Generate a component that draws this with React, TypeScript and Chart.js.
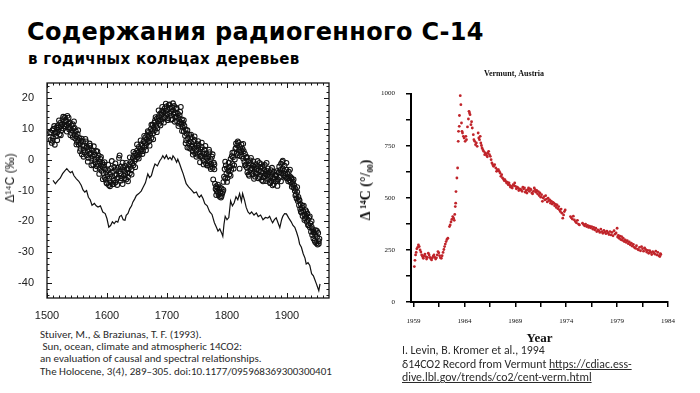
import React, { useEffect, useRef } from 'react';
import { Chart, registerables } from 'chart.js';

Chart.register(...registerables);

// ---------- Left chart: Stuiver & Braziunas (1993), tree-ring Δ14C ----------
const leftXTicks = [1500, 1600, 1700, 1800, 1900];
const leftYTicks = [-40, -30, -20, -10, 0, 10, 20];

// solid line series [year, Δ14C ‰]
const lineSeries: [number, number][] = [
  [1510, -6.7], [1514, -7.8], [1518, -6.8], [1522, -6.0], [1526, -4.5], [1530, -3.5], [1533, -2.9], [1536, -3.6],
  [1539, -4.2], [1542, -3.8], [1545, -5.2], [1549, -6.2], [1553, -7.0], [1557, -8.3], [1560, -9.8], [1563, -10.5],
  [1566, -10.0], [1569, -12.2], [1572, -13.0], [1575, -14.8], [1579, -14.2], [1582, -15.0], [1585, -15.4], [1589, -15.0],
  [1593, -17.0], [1597, -17.5], [1600, -19.2], [1603, -21.9], [1606, -21.4], [1609, -20.2], [1612, -20.8], [1615, -20.0],
  [1618, -20.3], [1621, -18.5], [1624, -18.1], [1627, -19.5], [1630, -19.7], [1632, -18.1], [1635, -17.5], [1638, -15.9],
  [1641, -15.0], [1643, -13.8], [1646, -12.8], [1649, -11.6], [1653, -11.0], [1657, -10.2], [1660, -9.0], [1664, -7.5],
  [1668, -4.6], [1671, -5.8], [1674, -5.2], [1677, -3.0], [1680, -1.4], [1684, -2.0], [1688, -0.3], [1691, 0.5],
  [1693, 1.3], [1696, 0.4], [1699, 1.5], [1702, 0.2], [1705, 0.8], [1708, 0.0], [1710, 1.3], [1713, 0.5],
  [1716, -0.8], [1718, 0.2], [1721, -1.3], [1724, -3.0], [1727, -4.6], [1730, -6.5], [1732, -7.8], [1736, -8.8],
  [1741, -9.9], [1745, -10.8], [1749, -10.5], [1752, -11.8], [1754, -12.2], [1757, -11.5], [1760, -12.6], [1763, -14.3],
  [1767, -15.0], [1771, -16.9], [1775, -17.8], [1779, -20.5], [1782, -21.8], [1785, -23.2], [1788, -22.5], [1791, -23.8],
  [1793, -24.9], [1795, -21.0], [1797, -18.4], [1800, -19.5], [1803, -18.8], [1806, -13.4], [1809, -15.0], [1812, -14.0],
  [1815, -12.0], [1818, -13.0], [1821, -11.0], [1824, -13.5], [1826, -11.0], [1829, -13.0], [1832, -15.5], [1835, -17.0],
  [1838, -17.6], [1841, -17.0], [1845, -18.0], [1849, -17.3], [1852, -18.5], [1856, -18.0], [1860, -19.5], [1864, -18.8],
  [1868, -19.0], [1871, -18.4], [1874, -19.8], [1876, -20.5], [1879, -19.5], [1882, -18.9], [1885, -20.5], [1888, -22.1],
  [1891, -19.5], [1893, -18.4], [1896, -17.5], [1899, -17.6], [1903, -19.0], [1907, -20.2], [1910, -21.4], [1913, -22.0],
  [1916, -23.6], [1919, -25.5], [1921, -27.4], [1924, -28.5], [1927, -30.6], [1930, -32.0], [1932, -33.9], [1935, -33.5],
  [1938, -34.4], [1941, -37.1], [1944, -37.8], [1946, -38.8], [1949, -40.4], [1951, -41.5], [1953, -42.6], [1955, -40.4],
];

// open-circle series [year, Δ14C ‰]
const ringPoints: [number, number][] = [
  [1506, 6.5], [1507, 8.8], [1508, 5.5], [1509, 9.6], [1510, 7.2], [1511, 10.1], [1512, 8.4], [1513, 4.9], [1514, 9.0], [1515, 7.7],
  [1516, 10.5], [1517, 8.9], [1518, 11.2], [1519, 9.8], [1520, 10.6], [1521, 8.3], [1522, 12.0], [1523, 10.9], [1524, 9.5], [1525, 11.5],
  [1526, 13.2], [1527, 10.2], [1528, 12.4], [1529, 11.0], [1530, 13.8], [1531, 10.8], [1532, 12.6], [1533, 11.4], [1534, 14.3], [1535, 10.5],
  [1536, 11.8], [1537, 9.9], [1538, 12.1], [1539, 10.4], [1540, 8.8], [1541, 11.3], [1542, 9.6], [1543, 7.4], [1544, 10.2], [1545, 12.5],
  [1546, 8.1], [1547, 6.9], [1548, 9.3], [1549, 7.6], [1550, 5.8], [1551, 8.4], [1552, 6.3], [1553, 4.9], [1554, 7.1], [1555, 5.5],
  [1556, 3.6], [1557, 6.2], [1558, 1.8], [1559, 4.7], [1560, 5.9], [1561, 3.2], [1562, 4.5], [1563, 2.4], [1564, 6.8], [1565, 3.9],
  [1566, 1.5], [1567, 4.2], [1568, 2.8], [1569, 0.6], [1570, 3.5], [1571, 1.9], [1572, 4.6], [1573, 2.2], [1574, 0.4], [1575, 3.1],
  [1576, 1.2], [1577, -1.6], [1578, 2.5], [1579, 0.1], [1580, 1.7], [1581, -0.8], [1582, 2.9], [1583, -2.1], [1584, 0.6], [1585, -1.3],
  [1586, 1.4], [1587, -0.5], [1588, -2.7], [1589, 0.3], [1590, -1.9], [1591, -3.6], [1592, -0.9], [1593, -2.4], [1594, -4.3], [1595, -1.6],
  [1596, -5.8], [1597, -3.2], [1598, -6.5], [1599, -4.1], [1600, -7.7], [1601, -5.3], [1602, -3.4], [1603, -8.2], [1604, -6.1], [1605, -4.6],
  [1606, -7.3], [1607, -2.8], [1608, -5.5], [1609, -8.0], [1610, -3.9], [1611, -6.7], [1612, -2.3], [1613, -5.0], [1614, -7.4], [1615, -3.3],
  [1616, -4.8], [1617, -6.2], [1618, -2.6], [1619, -5.7], [1620, -3.7], [1621, 1.4], [1622, -4.4], [1623, -2.2], [1624, -6.0], [1625, -3.1],
  [1626, -7.9], [1627, -2.5], [1628, -5.1], [1629, -3.8], [1630, -2.0], [1631, -4.7], [1632, -6.4], [1633, -2.9], [1634, -4.2], [1635, -5.6],
  [1636, -3.0], [1637, -1.5], [1638, -4.4], [1639, -2.3], [1640, -0.7], [1641, -3.1], [1642, -1.2], [1643, 0.5], [1644, -1.8], [1645, 1.3],
  [1646, -0.4], [1647, 2.1], [1648, 0.2], [1649, 1.5], [1650, 3.0], [1651, 0.9], [1652, 2.4], [1653, 4.2], [1654, 1.6], [1655, 3.5],
  [1656, 2.7], [1657, 5.1], [1658, 3.3], [1659, 4.6], [1660, 2.8], [1661, 6.0], [1662, 4.1], [1663, 5.4], [1664, 7.3], [1665, 4.8],
  [1666, 6.6], [1667, 8.0], [1668, 5.7], [1669, 7.5], [1670, 9.1], [1671, 6.2], [1672, 8.4], [1673, 10.0], [1674, 7.1], [1675, 9.4],
  [1676, 11.3], [1677, 8.6], [1678, 10.5], [1679, 12.1], [1680, 9.7], [1681, 13.9], [1682, 11.0], [1683, 13.4], [1684, 10.3], [1685, 12.6],
  [1686, 14.2], [1687, 11.7], [1688, 13.0], [1689, 15.1], [1690, 12.4], [1691, 14.6], [1692, 16.0], [1693, 13.3], [1694, 15.5], [1695, 14.0],
  [1696, 16.7], [1697, 13.8], [1698, 15.9], [1699, 17.4], [1700, 14.8], [1701, 16.3], [1702, 13.5], [1703, 17.8], [1704, 15.2], [1705, 16.9],
  [1706, 14.4], [1707, 15.7], [1708, 17.1], [1709, 13.2], [1710, 16.1], [1711, 14.9], [1712, 17.5], [1713, 15.4], [1714, 13.9], [1715, 16.6],
  [1716, 14.1], [1717, 12.5], [1718, 15.0], [1719, 13.6], [1720, 11.8], [1721, 14.5], [1722, 12.2], [1723, 17.2], [1724, 11.5], [1725, 13.1],
  [1726, 10.7], [1727, 12.0], [1728, 9.2], [1729, 11.1], [1730, 7.8], [1731, 9.9], [1732, 6.4], [1733, 8.5], [1734, 4.0], [1735, 7.0],
  [1736, 5.3], [1737, 8.1], [1738, 6.0], [1739, 3.6], [1740, 5.7], [1741, 7.4], [1742, 4.4], [1743, 2.7], [1744, 5.9], [1745, 3.8],
  [1746, 6.5], [1747, 2.1], [1748, 4.6], [1749, 3.0], [1750, 5.2], [1751, 1.6], [1752, 3.9], [1753, 4.8], [1754, 2.4], [1755, -0.8],
  [1756, 3.4], [1757, 1.3], [1758, 4.1], [1759, 0.6], [1760, 2.6], [1761, -0.3], [1762, 1.9], [1763, 3.3], [1764, 0.9], [1765, -1.2],
  [1766, 2.0], [1767, 0.4], [1768, -1.7], [1769, 1.1], [1770, -0.6], [1771, 2.5], [1772, -2.3], [1773, 0.2], [1774, -1.4], [1775, 1.0],
  [1776, -2.6], [1777, -6.4], [1778, -0.9], [1779, -3.1], [1780, -7.8], [1781, -9.5], [1782, -8.6], [1783, -10.2], [1784, -9.0], [1785, -8.1],
  [1786, -11.4], [1787, -9.7], [1788, -8.9], [1789, -10.6], [1790, -12.3], [1791, -9.3], [1792, -11.0], [1793, -10.4], [1794, -7.2], [1795, -5.5],
  [1796, -3.0], [1797, -6.1], [1798, -1.8], [1799, -4.5], [1800, -2.7], [1801, -5.9], [1802, -3.6], [1803, -0.9], [1804, -4.8], [1805, -2.2],
  [1806, 0.3], [1807, -3.3], [1808, 1.2], [1809, -1.4], [1810, 0.8], [1811, -2.9], [1812, 2.4], [1813, 0.1], [1814, 3.6], [1815, 5.3],
  [1816, 2.0], [1817, 4.7], [1818, 1.5], [1819, 5.6], [1820, 3.2], [1821, -2.9], [1822, 4.1], [1823, 2.6], [1824, 5.0], [1825, 1.1],
  [1826, 3.5], [1827, 0.4], [1828, 2.8], [1829, -0.7], [1830, 1.9], [1831, -1.6], [1832, 0.7], [1833, -2.5], [1834, -4.1], [1835, -0.3],
  [1836, -2.0], [1837, -5.2], [1838, -1.1], [1839, -3.4], [1840, 0.6], [1841, -2.7], [1842, -4.6], [1843, -1.8], [1844, -0.5], [1845, -3.9],
  [1846, -2.3], [1847, -5.5], [1848, -1.4], [1849, -3.0], [1850, -4.4], [1851, -2.1], [1852, -6.0], [1853, -3.5], [1854, -1.0], [1855, -4.9],
  [1856, -2.6], [1857, -3.8], [1858, -6.6], [1859, -2.2], [1860, -4.3], [1861, -5.7], [1862, -3.1], [1863, -1.7], [1864, -4.7], [1865, -6.9],
  [1866, -3.6], [1867, -5.1], [1868, -2.8], [1869, -6.3], [1870, -4.0], [1871, -7.2], [1872, -5.4], [1873, -3.4], [1874, -6.8], [1875, -4.6],
  [1876, -8.3], [1877, -5.8], [1878, -3.9], [1879, -6.1], [1880, -4.9], [1881, -7.0], [1882, -5.3], [1883, -3.7], [1884, -8.5], [1885, -6.4],
  [1886, -4.2], [1887, -2.2], [1888, -5.6], [1889, -3.3], [1890, -1.3], [1891, -4.4], [1892, -0.7], [1893, -2.8], [1894, -5.0], [1895, -3.6],
  [1896, -1.9], [1897, -4.5], [1898, -5.8], [1899, -3.2], [1900, -6.1], [1901, -4.7], [1902, -5.9], [1903, -3.9], [1904, -6.6], [1905, -5.4],
  [1906, -7.3], [1907, -5.8], [1908, -6.2], [1909, -8.0], [1910, -7.1], [1911, -9.0], [1912, -8.3], [1913, -10.1], [1914, -9.4], [1915, -11.2],
  [1916, -12.6], [1917, -10.5], [1918, -13.4], [1919, -12.1], [1920, -14.8], [1921, -13.2], [1922, -16.0], [1923, -14.5], [1924, -17.2], [1925, -15.6],
  [1926, -18.3], [1927, -16.7], [1928, -14.9], [1929, -17.8], [1930, -19.0], [1931, -16.4], [1932, -18.6], [1933, -20.2], [1934, -17.5], [1935, -19.5],
  [1936, -21.3], [1937, -18.9], [1938, -22.0], [1939, -20.7], [1940, -23.4], [1941, -21.8], [1942, -24.5], [1943, -22.6], [1944, -25.6], [1945, -23.7],
  [1946, -26.3], [1947, -24.4], [1948, -22.9], [1949, -27.2], [1950, -25.1], [1951, -27.6], [1952, -23.8], [1953, -26.5], [1954, -25.7],
];

// second set of open circles (spread around the band)
const ringExtra: [number, number][] = [
  [1505, 8.9], [1509, 6.2], [1512, 11.0], [1517, 6.4], [1520, 12.8], [1523, 8.0], [1527, 14.0], [1531, 12.9], [1533, 9.2], [1536, 13.7],
  [1539, 8.0], [1543, 11.6], [1546, 10.4], [1549, 5.0], [1552, 9.6], [1555, 2.8], [1558, 6.9], [1561, 1.0], [1565, 6.0], [1568, -0.6],
  [1571, 5.3], [1574, -1.8], [1578, 4.4], [1581, -3.0], [1584, 2.7], [1587, -4.6], [1590, 0.9], [1593, -6.3], [1596, -0.8], [1599, -7.5],
  [1602, -1.6], [1605, -8.6], [1608, -0.4], [1611, -7.9], [1614, -1.2], [1617, -8.2], [1620, 0.6], [1623, -6.8], [1626, -0.9], [1629, -6.0],
  [1632, -1.0], [1635, -7.0], [1638, 0.8], [1641, -4.8], [1644, 2.6], [1647, -2.4], [1650, 5.0], [1653, 0.4], [1656, 6.3], [1659, 1.9],
  [1662, 7.8], [1665, 3.1], [1668, 9.3], [1671, 4.6], [1674, 11.4], [1677, 6.7], [1680, 12.8], [1683, 9.0], [1686, 16.1], [1689, 11.2],
  [1692, 17.2], [1695, 12.1], [1698, 18.3], [1701, 12.9], [1704, 18.0], [1707, 13.0], [1710, 18.4], [1713, 12.4], [1716, 16.9], [1719, 11.0],
  [1722, 15.6], [1725, 9.4], [1728, 12.9], [1731, 5.4], [1734, 9.6], [1737, 3.9], [1740, 8.2], [1743, 1.7], [1746, 7.6], [1749, 1.0],
  [1752, 6.1], [1755, 1.2], [1758, 5.6], [1761, -1.5], [1764, 4.5], [1767, -1.9], [1770, 3.3], [1773, -3.0], [1776, 1.8], [1779, -1.5],
  [1782, -11.5], [1785, -10.6], [1788, -12.0], [1791, -11.8], [1794, -9.8], [1797, -0.6], [1800, -7.2], [1803, -2.5], [1806, -5.2], [1809, 2.3],
  [1812, -1.8], [1815, 3.9], [1818, 6.0], [1821, 1.2], [1824, 3.0], [1827, 5.2], [1830, -1.9], [1833, 0.9], [1836, -4.8], [1839, -0.2],
  [1842, -2.9], [1845, -6.2], [1848, -4.4], [1851, -0.4], [1854, -5.6], [1857, -1.4], [1860, -7.0], [1863, -5.2], [1866, -1.0], [1869, -4.5],
  [1872, -7.6], [1875, -2.6], [1878, -7.9], [1881, -5.0], [1884, -6.9], [1887, -4.0], [1890, -7.0], [1893, -0.3], [1896, -5.4], [1899, -1.0],
  [1902, -7.0], [1905, -3.2], [1908, -8.8], [1911, -6.4], [1914, -11.6], [1917, -8.9], [1920, -12.9], [1923, -16.8], [1926, -15.0], [1929, -19.6],
  [1932, -16.8], [1935, -21.2], [1938, -18.4], [1941, -20.0], [1944, -23.5], [1947, -26.8], [1950, -23.2], [1953, -27.3],
];

// ---------- Right chart: Vermunt, Austria Δ14CO2 ----------
const rightXTicks = [1959, 1961.5, 1964, 1966.5, 1969, 1971.5, 1974, 1976.5, 1979, 1981.5, 1984];
const rightXLabels = [1959, 1964, 1969, 1974, 1979, 1984];
const rightYTicks = [0, 125, 250, 375, 500, 625, 750, 875, 1000];
const rightYLabels = [0, 250, 500, 750, 1000];

const vermuntPoints: [number, number][] = [
  [1959.08, 170], [1959.14, 200], [1959.2, 226], [1959.26, 238], [1959.32, 255], [1959.4, 262], [1959.48, 274], [1959.56, 266],
  [1959.64, 250], [1959.72, 240], [1959.8, 226], [1959.88, 218], [1959.96, 210], [1960.04, 222], [1960.12, 230], [1960.2, 218],
  [1960.28, 206], [1960.36, 214], [1960.45, 234], [1960.53, 226], [1960.61, 214], [1960.69, 208], [1960.77, 202], [1960.85, 212],
  [1960.93, 220], [1961.01, 226], [1961.09, 214], [1961.17, 206], [1961.25, 212], [1961.33, 226], [1961.4, 242], [1961.48, 236],
  [1961.56, 222], [1961.64, 212], [1961.73, 210], [1961.81, 222], [1961.9, 238], [1961.98, 252], [1962.05, 266], [1962.12, 278],
  [1962.2, 290], [1962.28, 300], [1962.37, 306], [1962.53, 362], [1962.6, 370], [1962.68, 384], [1962.76, 396], [1962.85, 410],
  [1962.93, 402], [1963.0, 392], [1963.05, 420], [1963.1, 458], [1963.14, 474], [1963.17, 530], [1963.26, 595], [1963.33, 643],
  [1963.39, 771], [1963.42, 819], [1963.49, 843], [1963.51, 895], [1963.59, 990], [1963.65, 947], [1963.71, 859], [1963.76, 819],
  [1963.81, 811], [1963.9, 795], [1963.97, 787], [1964.07, 771], [1964.14, 795], [1964.2, 779], [1964.3, 840], [1964.39, 878],
  [1964.45, 915], [1964.5, 907], [1964.55, 899], [1964.64, 851], [1964.7, 865], [1964.77, 835], [1964.87, 803], [1964.93, 779],
  [1965.01, 771], [1965.09, 755], [1965.17, 763], [1965.25, 747], [1965.35, 811], [1965.41, 787], [1965.48, 779], [1965.55, 795],
  [1965.61, 763], [1965.67, 751], [1965.73, 739], [1965.81, 731], [1965.89, 723], [1965.99, 707], [1966.05, 715], [1966.12, 711],
  [1966.18, 703], [1966.25, 697], [1966.31, 715], [1966.38, 723], [1966.46, 707], [1966.54, 699], [1966.62, 683], [1966.7, 667],
  [1966.78, 659], [1966.86, 651], [1966.97, 659], [1967.08, 643], [1967.16, 627], [1967.24, 635], [1967.34, 635], [1967.42, 627],
  [1967.5, 619], [1967.58, 603], [1967.66, 611], [1967.74, 595], [1967.82, 591], [1967.9, 583], [1967.98, 587], [1968.06, 579],
  [1968.14, 571], [1968.22, 575], [1968.3, 563], [1968.38, 571], [1968.46, 559], [1968.54, 551], [1968.62, 555], [1968.7, 547],
  [1968.78, 563], [1968.86, 559], [1968.94, 571], [1969.02, 555], [1969.1, 543], [1969.18, 551], [1969.26, 547], [1969.34, 535],
  [1969.42, 543], [1969.5, 539], [1969.58, 539], [1969.66, 531], [1969.74, 551], [1969.82, 543], [1969.9, 547], [1969.98, 527],
  [1970.06, 535], [1970.14, 523], [1970.22, 539], [1970.3, 547], [1970.38, 531], [1970.46, 543], [1970.54, 539], [1970.62, 523],
  [1970.7, 519], [1970.78, 531], [1970.86, 547], [1970.94, 539], [1971.02, 527], [1971.1, 535], [1971.18, 519], [1971.26, 530],
  [1971.34, 511], [1971.42, 523], [1971.5, 503], [1971.58, 515], [1971.66, 483], [1971.74, 499], [1971.82, 506], [1971.9, 490],
  [1971.98, 510], [1972.06, 494], [1972.14, 480], [1972.22, 498], [1972.3, 486], [1972.38, 490], [1972.46, 474], [1972.54, 484],
  [1972.62, 470], [1972.7, 478], [1972.78, 474], [1972.86, 462], [1972.94, 470], [1973.02, 454], [1973.1, 466], [1973.18, 448],
  [1973.26, 458], [1973.34, 442], [1973.42, 434], [1973.5, 446], [1973.58, 426], [1973.66, 402], [1973.74, 418], [1973.82, 434],
  [1973.9, 442], [1974.42, 410], [1974.5, 404], [1974.6, 398], [1974.7, 412], [1974.8, 394], [1974.9, 386], [1975.0, 380],
  [1975.1, 392], [1975.2, 374], [1975.3, 370], [1975.6, 378], [1975.7, 372], [1975.8, 366], [1975.9, 374], [1976.0, 362],
  [1976.1, 368], [1976.2, 358], [1976.3, 364], [1976.4, 356], [1976.5, 362], [1976.6, 350], [1976.7, 358], [1976.8, 346],
  [1976.9, 354], [1977.0, 338], [1977.1, 346], [1977.2, 342], [1977.3, 334], [1977.4, 350], [1977.5, 338], [1977.6, 330],
  [1977.7, 344], [1977.8, 336], [1977.9, 328], [1978.0, 340], [1978.1, 332], [1978.2, 324], [1978.3, 338], [1978.4, 322],
  [1978.5, 334], [1978.6, 318], [1978.7, 342], [1978.8, 326], [1978.9, 331], [1979.0, 354], [1979.05, 312], [1979.12, 320],
  [1979.2, 306], [1979.28, 316], [1979.36, 300], [1979.44, 314], [1979.52, 296], [1979.6, 306], [1979.7, 290], [1979.8, 298],
  [1979.9, 286], [1980.0, 294], [1980.1, 280], [1980.2, 288], [1980.3, 274], [1980.4, 282], [1980.5, 268], [1980.6, 276],
  [1980.7, 262], [1980.8, 258], [1980.9, 270], [1981.0, 254], [1981.1, 250], [1981.2, 262], [1981.3, 246], [1981.4, 266],
  [1981.5, 256], [1981.6, 244], [1981.7, 260], [1981.8, 252], [1981.9, 240], [1982.0, 248], [1982.1, 234], [1982.2, 246],
  [1982.3, 238], [1982.4, 228], [1982.5, 242], [1982.6, 236], [1982.7, 230], [1982.8, 244], [1982.9, 226], [1983.0, 238],
  [1983.1, 222], [1983.2, 218], [1983.25, 232], [1983.3, 228],
];

const toXY = (arr: [number, number][]) => arr.map(([x, y]) => ({ x, y }));

// frame with inward ticks on all four sides (left chart)
const boxTicks = {
  id: 'boxTicks',
  afterDraw(chart: any) {
    const { ctx, chartArea: a, scales } = chart;
    const sx = scales.x;
    const sy = scales.y;
    ctx.save();
    ctx.strokeStyle = '#151515';
    ctx.lineWidth = 1.3;
    ctx.strokeRect(a.left, a.top, a.right - a.left, a.bottom - a.top);
    ctx.lineWidth = 1;
    ctx.beginPath();
    for (let yr = 1500; yr <= 1960; yr += 10) {
      const px = Math.round(sx.getPixelForValue(yr)) + 0.5;
      const len = yr % 100 === 0 ? 5 : 2.5;
      ctx.moveTo(px, a.bottom);
      ctx.lineTo(px, a.bottom - len);
      ctx.moveTo(px, a.top);
      ctx.lineTo(px, a.top + len);
    }
    for (let v = -44; v <= 24; v += 2) {
      const py = Math.round(sy.getPixelForValue(v)) + 0.5;
      const len = v % 10 === 0 ? 5 : 2.5;
      ctx.moveTo(a.left, py);
      ctx.lineTo(a.left + len, py);
      ctx.moveTo(a.right, py);
      ctx.lineTo(a.right - len, py);
    }
    ctx.stroke();
    ctx.restore();
  },
};

const ringStyle = {
  pointRadius: 2.4,
  pointBorderWidth: 1.05,
  pointBorderColor: '#111',
  pointBackgroundColor: 'rgba(0,0,0,0)',
  showLine: false,
};

function LeftChart() {
  const ref = useRef<HTMLCanvasElement | null>(null);
  useEffect(() => {
    if (!ref.current) return;
    const chart = new Chart(ref.current, {
      type: 'scatter',
      data: {
        datasets: [
          {
            label: 'line',
            data: toXY(lineSeries),
            showLine: true,
            borderColor: '#111',
            borderWidth: 1.2,
            pointRadius: 0,
            tension: 0,
          } as any,
          { label: 'rings', data: toXY(ringPoints), ...ringStyle } as any,
          { label: 'rings2', data: toXY(ringExtra), ...ringStyle } as any,
        ],
      },
      options: {
        responsive: false,
        animation: false,
        events: [],
        layout: { padding: { top: 13, right: 16, left: 0, bottom: 0 } },
        plugins: { legend: { display: false }, tooltip: { enabled: false }, title: { display: false } },
        scales: {
          x: {
            type: 'linear',
            min: 1500,
            max: 1970,
            grid: { display: false },
            border: { display: false },
            afterBuildTicks: (s: any) => { s.ticks = leftXTicks.map((v) => ({ value: v })); },
            afterFit: (s: any) => { s.height = 22; },
            ticks: {
              autoSkip: false,
              maxRotation: 0,
              padding: 3,
              color: '#222',
              font: { family: 'Liberation Sans', size: 11 },
              callback: (v: any) => String(v),
            },
          },
          y: {
            type: 'linear',
            min: -45,
            max: 25,
            grid: { display: false },
            border: { display: false },
            afterBuildTicks: (s: any) => { s.ticks = leftYTicks.map((v) => ({ value: v })); },
            afterFit: (s: any) => { s.width = 47; },
            ticks: {
              padding: 5,
              color: '#222',
              font: { family: 'Liberation Sans', size: 11 },
              callback: (v: any) => String(v),
            },
          },
        },
      },
      plugins: [boxTicks],
    } as any);
    return () => chart.destroy();
  }, []);
  return (
    <canvas ref={ref} width={345} height={250} style={{ position: 'absolute', left: 0, top: 70, width: 345, height: 250 }} />
  );
}

function RightChart() {
  const ref = useRef<HTMLCanvasElement | null>(null);
  useEffect(() => {
    if (!ref.current) return;
    const serif = 'Liberation Serif';
    const chart = new Chart(ref.current, {
      type: 'scatter',
      data: {
        datasets: [
          {
            label: 'Vermunt',
            data: toXY(vermuntPoints),
            pointRadius: 1.4,
            pointBorderWidth: 0,
            pointBackgroundColor: '#c0242a',
            showLine: false,
          } as any,
        ],
      },
      options: {
        responsive: false,
        animation: false,
        events: [],
        layout: { padding: { top: 0, right: 12, left: 0, bottom: 0 } },
        plugins: {
          legend: { display: false },
          tooltip: { enabled: false },
          title: {
            display: true,
            text: 'Vermunt, Austria',
            color: '#111',
            font: { family: serif, size: 8, weight: 'bold' },
            padding: { top: 7, bottom: 15 },
          },
        },
        scales: {
          x: {
            type: 'linear',
            min: 1958.75,
            max: 1984,
            grid: { drawOnChartArea: false, drawTicks: true, tickLength: 5, color: '#000', lineWidth: 1.5 },
            border: { display: true, color: '#000', width: 2 },
            afterBuildTicks: (s: any) => { s.ticks = rightXTicks.map((v) => ({ value: v })); },
            afterFit: (s: any) => { s.height = 53; },
            ticks: {
              autoSkip: false,
              maxRotation: 0,
              padding: 10,
              color: '#111',
              font: { family: serif, size: 7 },
              callback: (v: any) => (rightXLabels.includes(v) ? String(v) : ''),
            },
            title: {
              display: true,
              text: 'Year',
              color: '#111',
              font: { family: serif, size: 13, weight: 'bold' },
              padding: { top: 0, bottom: 9 },
            },
          },
          y: {
            type: 'linear',
            min: 0,
            max: 1000,
            grid: { drawOnChartArea: false, drawTicks: true, tickLength: 5, color: '#000', lineWidth: 1.5 },
            border: { display: true, color: '#000', width: 2 },
            afterBuildTicks: (s: any) => { s.ticks = rightYTicks.map((v) => ({ value: v })); },
            afterFit: (s: any) => { s.width = 56; },
            ticks: {
              padding: 11,
              color: '#111',
              font: { family: serif, size: 7 },
              callback: (v: any) => (rightYLabels.includes(v) ? String(v) : ''),
            },
          },
        },
      },
    } as any);
    return () => chart.destroy();
  }, []);
  return (
    <canvas ref={ref} width={330} height={293} style={{ position: 'absolute', left: 355, top: 62, width: 330, height: 293 }} />
  );
}

const rotated = (cx: number, cy: number): React.CSSProperties => ({
  position: 'absolute',
  left: cx,
  top: cy,
  transform: 'translate(-50%, -50%) rotate(-90deg)',
  whiteSpace: 'nowrap',
  lineHeight: 1,
});

export default function App() {
  const cite: React.CSSProperties = {
    position: 'absolute',
    fontFamily: 'Carlito, Lato, "Liberation Sans", sans-serif',
    color: '#2a2a2a',
    whiteSpace: 'pre',
  };
  return (
    <div style={{ position: 'fixed', left: 0, top: 0, width: 700, height: 393, background: '#fff', overflow: 'hidden' }}>
      <div style={{ position: 'absolute', left: 27, top: 20, fontFamily: '"DejaVu Sans", sans-serif', fontWeight: 'bold', fontSize: 24, lineHeight: '24px', letterSpacing: 0.35, color: '#000', whiteSpace: 'nowrap' }}>
        Содержания радиогенного С-14
      </div>
      <div style={{ position: 'absolute', left: 28, top: 52, fontFamily: '"DejaVu Sans", sans-serif', fontWeight: 'bold', fontSize: 15, lineHeight: '15px', letterSpacing: 0.3, color: '#000', whiteSpace: 'nowrap' }}>
        в годичных кольцах деревьев
      </div>
      <LeftChart />
      <RightChart />
      <div style={{ ...rotated(10, 178), fontFamily: '"Liberation Sans", sans-serif', fontSize: 12, color: '#222' }}>
        {'Δ¹⁴C  (‰)'}
      </div>
      <div style={{ ...rotated(366, 190), fontFamily: '"Liberation Serif", serif', fontWeight: 'bold', fontSize: 14, color: '#111' }}>
        {'Δ ¹⁴C (°/₀₀)'}
      </div>
      <div style={{ ...cite, left: 40, top: 329, fontSize: 11, lineHeight: '12.2px' }}>
        {'Stuiver, M., & Braziunas, T. F. (1993).\n Sun, ocean, climate and atmospheric 14CO2:\nan evaluation of causal and spectral relationships.\nThe Holocene, 3(4), 289–305. doi:10.1177/095968369300300401'}
      </div>
      <div style={{ ...cite, left: 402, top: 344, fontSize: 11.8, lineHeight: '13.6px' }}>
        {'I. Levin, B. Kromer et al., 1994\nδ14CO2 Record from Vermunt '}
        <span style={{ textDecoration: 'underline' }}>{'https://cdiac.ess-\ndive.lbl.gov/trends/co2/cent-verm.html'}</span>
      </div>
    </div>
  );
}
